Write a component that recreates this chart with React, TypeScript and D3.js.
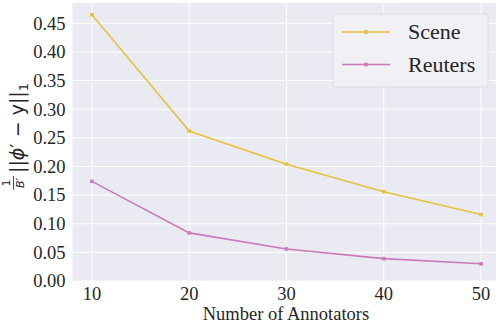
import React from 'react';
import * as d3 from 'd3';

const annotators = [10, 20, 30, 40, 50];
const sceneValues = [0.465, 0.262, 0.204, 0.156, 0.116];
const reutersValues = [0.174, 0.084, 0.056, 0.039, 0.030];
const yTicks = [0, 0.05, 0.1, 0.15, 0.2, 0.25, 0.3, 0.35, 0.4, 0.45];
const seriesNames = ['Scene', 'Reuters'];
const seriesColors = ['#e8c13c', '#cb79b9'];

const W = 496, H = 328;
const margin = { left: 72.5, top: 3, right: -4.5, bottom: 47 };

export default function App() {
  const x = d3.scaleLinear().domain([8, 52]).range([margin.left, W - margin.right]);
  const y = d3.scaleLinear().domain([0, 0.4855]).range([H - margin.bottom, margin.top]);
  const line = d3.line<number>().x((d, i) => x(annotators[i])).y(d => y(d));
  const series = [sceneValues, reutersValues];
  const serif = "'Liberation Serif', 'Times New Roman', serif";

  return (
    <svg width={W} height={H} style={{ position: 'absolute', left: 0, top: 0, background: '#fff' }}>
      <defs>
        <clipPath id="plot"><rect x={margin.left} y={margin.top} width={W - margin.left} height={y(0) - margin.top} /></clipPath>
      </defs>
      <rect x={margin.left} y={margin.top} width={W - margin.left} height={y(0) - margin.top} fill="#eaeaf2" />
      <g clipPath="url(#plot)">
        {annotators.map(t => <line key={'gx' + t} x1={x(t)} x2={x(t)} y1={margin.top} y2={y(0)} stroke="#fff" strokeWidth={1} />)}
        {yTicks.map(t => <line key={'gy' + t} x1={margin.left} x2={W} y1={y(t)} y2={y(t)} stroke="#fff" strokeWidth={1} />)}
        {series.map((s, k) => (
          <g key={seriesNames[k]}>
            <path d={line(s) || ''} fill="none" stroke={seriesColors[k]} strokeWidth={1.6} />
            {s.map((v, i) => <rect key={i} x={x(annotators[i]) - 1.8} y={y(v) - 1.8} width={3.6} height={3.6} fill={seriesColors[k]} />)}
          </g>
        ))}
      </g>
      {yTicks.map(t => (
        <text key={'ty' + t} x={margin.left - 7} y={y(t)} dy="0.34em" textAnchor="end" fontFamily={serif} fontSize={18.5} fill="#262626">{t.toFixed(2)}</text>
      ))}
      {annotators.map(t => (
        <text key={'tx' + t} x={x(t)} y={y(0) + 18.5} textAnchor="middle" fontFamily={serif} fontSize={18.5} fill="#262626">{t}</text>
      ))}
      <text x={286} y={320} textAnchor="middle" fontFamily={serif} fontSize={18.5} fill="#262626">Number of Annotators</text>
      <g transform="translate(27,190) rotate(-90)" fill="#262626" fontFamily="'DejaVu Sans', sans-serif">
        <text x={7} y={-17} textAnchor="middle" fontSize={11}>1</text>
        <line x1={0} x2={14} y1={-13.5} y2={-13.5} stroke="#262626" strokeWidth={0.8} />
        <text x={7} y={-3} textAnchor="middle" fontSize={11} fontStyle="italic">B′</text>
        <text x={17} y={-3} fontSize={19}>||<tspan fontStyle="italic">ϕ</tspan>′ − y||<tspan fontSize={13} dy={4}>1</tspan></text>
      </g>
      <g transform="translate(333,14)">
        <rect x={0} y={0} width={155} height={73} rx={3} fill="#f0f0f5" stroke="#d8d8e0" strokeWidth={0.8} />
        {seriesNames.map((n, k) => (
          <g key={n} transform={`translate(0,${18 + k * 32.5})`}>
            <line x1={9} x2={57} y1={0} y2={0} stroke={seriesColors[k]} strokeWidth={1.6} />
            <rect x={31.2} y={-1.8} width={3.6} height={3.6} fill={seriesColors[k]} />
            <text x={75} y={0} dy="0.34em" fontFamily={serif} fontSize={22} fill="#262626">{n}</text>
          </g>
        ))}
      </g>
    </svg>
  );
}
